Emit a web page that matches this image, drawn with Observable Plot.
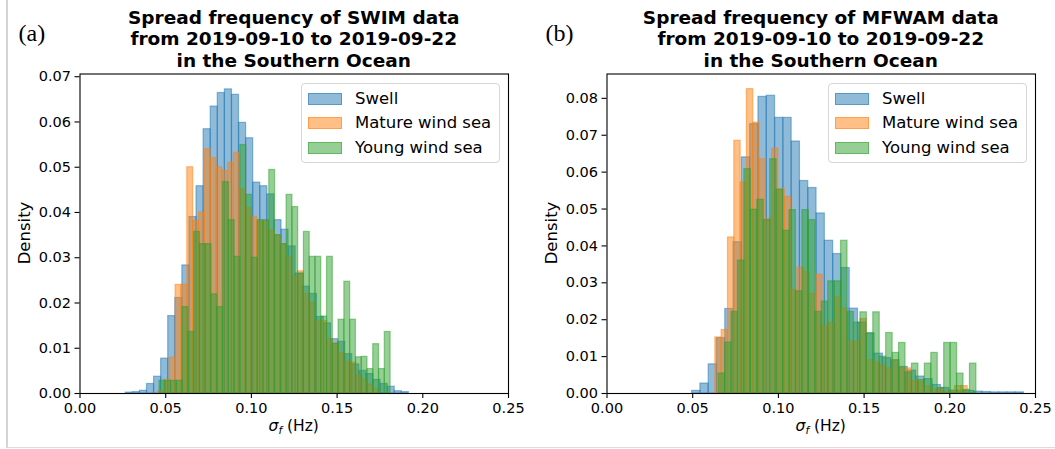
<!DOCTYPE html>
<html><head><meta charset="utf-8">
<script src="https://cdn.jsdelivr.net/npm/d3@7"></script>
<script src="https://cdn.jsdelivr.net/npm/@observablehq/plot@0.6"></script>
<style>
body{margin:0;background:#fff;}
#wrap{position:relative;width:1055px;height:449px;overflow:hidden;font-family:"DejaVu Sans",sans-serif;color:#000;background:#fff;}
.panel{position:absolute;top:0;}
.title{position:absolute;top:6.5px;text-align:center;font-weight:bold;font-size:18.5px;line-height:21.5px;white-space:nowrap;}
.tag{position:absolute;top:21px;font-family:"Liberation Serif",serif;font-size:24px;line-height:1;}
.xlab{position:absolute;top:416px;text-align:center;font-size:15.5px;line-height:20px;}
.ylab{position:absolute;font-size:16.5px;line-height:20px;transform:translate(-50%,-50%) rotate(-90deg);white-space:nowrap;}
.legend{position:absolute;top:83px;width:199px;height:80px;border:1px solid #d6d6d6;border-radius:4px;background:rgba(255,255,255,0.8);box-sizing:border-box;}
.lrow{position:absolute;left:0;height:20px;font-size:16.5px;line-height:20px;white-space:nowrap;}
.patch{position:absolute;left:6px;top:4px;width:34px;height:12px;box-sizing:border-box;}
.ltext{position:absolute;left:53px;top:0;}
.vline{position:absolute;left:6px;top:0;width:1.5px;height:448px;background:#d4d4d4;}
.hline{position:absolute;left:6px;top:446.5px;width:1049px;height:1.5px;background:#dcdcdc;}
</style></head><body><div id="wrap"></div>
<script>
// ---------- data ----------
const seriesNames = ["Swell", "Mature wind sea", "Young wind sea"];
const seriesColors = ["#1f77b4", "#ff7f0e", "#2ca02c"];
const xTicks = [0.00, 0.05, 0.10, 0.15, 0.20, 0.25];
const yTicksA = [0.00, 0.01, 0.02, 0.03, 0.04, 0.05, 0.06, 0.07];
const yTicksB = [0.00, 0.01, 0.02, 0.03, 0.04, 0.05, 0.06, 0.07, 0.08];
const titleA = ["Spread frequency of SWIM data", "from 2019-09-10 to 2019-09-22", "in the Southern Ocean"];
const titleB = ["Spread frequency of MFWAM data", "from 2019-09-10 to 2019-09-22", "in the Southern Ocean"];

// (a) SWIM — histogram bins: first bin edge, bin width, densities
const swimSwellStart = 0.0267, swimSwellWidth = 0.00413;
const swimSwell = [0.0002, 0.0003, 0.0006, 0.0021, 0.0037, 0.0077, 0.0171, 0.0211, 0.0283, 0.039, 0.0458, 0.0584, 0.0634, 0.0664, 0.0672, 0.066, 0.0598, 0.0564, 0.0466, 0.0458, 0.044, 0.0383, 0.0362, 0.0325, 0.0265, 0.0236, 0.022, 0.0169, 0.0155, 0.012, 0.0114, 0.0087, 0.0064, 0.005, 0.0043, 0.003, 0.0021, 0.0015, 0.0005, 0.0003];
const swimMatureStart = 0.0456, swimMatureWidth = 0.0034;
const swimMature = [0.0005, 0.003, 0.0079, 0.024, 0.024, 0.050, 0.0381, 0.040, 0.054, 0.052, 0.050, 0.0492, 0.051, 0.0532, 0.0451, 0.041, 0.039, 0.038, 0.038, 0.036, 0.035, 0.033, 0.030, 0.026, 0.027, 0.022, 0.020, 0.016, 0.016, 0.012, 0.011, 0.009, 0.007, 0.0068, 0.004, 0.003, 0.002, 0.001];
const swimYoungStart = 0.0464, swimYoungWidth = 0.00337;
const swimYoung = [0.0028, 0.0028, 0.0028, 0.0028, 0.0191, 0.0136, 0.0357, 0.033, 0.033, 0.0219, 0.0191, 0.0467, 0.0383, 0.0302, 0.0549, 0.0439, 0.030, 0.0383, 0.0383, 0.0494, 0.035, 0.033, 0.0439, 0.0412, 0.0265, 0.0357, 0.0302, 0.0302, 0.017, 0.0302, 0.011, 0.0163, 0.0247, 0.0163, 0.008, 0.0081, 0.0054, 0.0109, 0.0054, 0.0136];

// (b) MFWAM
const mfSwellStart = 0.04965, mfSwellWidth = 0.00484;
const mfSwell = [0.0007, 0.0027, 0.0079, 0.015, 0.0229, 0.041, 0.064, 0.073, 0.0804, 0.0807, 0.0747, 0.0747, 0.0683, 0.0576, 0.0557, 0.0488, 0.0414, 0.0378, 0.034, 0.023, 0.0192, 0.0163, 0.0108, 0.0096, 0.009, 0.0072, 0.0062, 0.0046, 0.0039, 0.0023, 0.0015, 0.0008, 0.0007, 0.0007, 0.0005, 0.0004, 0.0003, 0.0003, 0.0003, 0.0003];
const mfMatureStart = 0.06323, mfMatureWidth = 0.00368;
const mfMature = [0.0152, 0.0172, 0.0423, 0.0685, 0.0572, 0.0825, 0.0734, 0.0635, 0.0473, 0.0664, 0.0554, 0.0533, 0.028, 0.0341, 0.033, 0.027, 0.0322, 0.0182, 0.0192, 0.0262, 0.023, 0.014, 0.014, 0.0202, 0.009, 0.0085, 0.0077, 0.0068, 0.009, 0.007, 0.0068, 0.0034, 0.0032, 0.002, 0.001, 0.0012, 0.0005, 0.0005, 0.002, 0.002];
const mfYoungStart = 0.06512, mfYoungWidth = 0.00376;
const mfYoung = [0.0054, 0.0138, 0.0221, 0.036, 0.0608, 0.0498, 0.0525, 0.047, 0.0635, 0.0552, 0.0441, 0.0497, 0.0277, 0.0497, 0.047, 0.0221, 0.0249, 0.0304, 0.0304, 0.0414, 0.0221, 0.0192, 0.022, 0.0163, 0.022, 0.010, 0.0164, 0.011, 0.0137, 0.0057, 0.0081, 0.0037, 0.0081, 0.011, 0.0015, 0.0137, 0.0137, 0.0054, 0.001, 0.0081];

// ---------- build ----------
function bins(start, width, values, series) {
  return values.map((v, i) => ({x1: start + i * width, x2: start + (i + 1) * width, y: v, series}));
}
const fmt = d3.format(".2f");
const W = 528, H = 449;
const M = {left: 79.5, right: 20, top: 73.5, bottom: 56};

function panel(series, yMax, yTicks) {
  const marks = series.map((rows, i) => Plot.rectY(rows, {
    x1: "x1", x2: "x2", y: "y",
    fill: seriesColors[i], fillOpacity: 0.5,
    stroke: seriesColors[i], strokeOpacity: 0.5, strokeWidth: 1.2
  }));
  return Plot.plot({
    width: W, height: H,
    marginLeft: M.left, marginRight: M.right, marginTop: M.top, marginBottom: M.bottom,
    style: {fontFamily: "DejaVu Sans", fontSize: "14.5px", color: "black", background: "transparent", overflow: "visible"},
    x: {domain: [0, 0.25]},
    y: {domain: [0, yMax]},
    marks: [
      ...marks,
      Plot.axisX({ticks: xTicks, tickFormat: fmt, tickSize: 5, tickPadding: 4, label: null, fontSize: 14.5, strokeWidth: 1.1}),
      Plot.axisY({ticks: yTicks, tickFormat: fmt, tickSize: 5, tickPadding: 4, label: null, fontSize: 14.5, strokeWidth: 1.1}),
      Plot.frame({stroke: "black", strokeWidth: 1.1})
    ]
  });
}

const wrap = document.getElementById("wrap");
function addDiv(cls, css, html) {
  const d = document.createElement("div");
  d.className = cls;
  Object.assign(d.style, css);
  if (html != null) d.innerHTML = html;
  wrap.appendChild(d);
  return d;
}

const panels = [
  {off: 0, tag: "(a)", title: titleA, yMax: 0.0706, yTicks: yTicksA,
   data: [bins(swimSwellStart, swimSwellWidth, swimSwell, seriesNames[0]),
          bins(swimMatureStart, swimMatureWidth, swimMature, seriesNames[1]),
          bins(swimYoungStart, swimYoungWidth, swimYoung, seriesNames[2])]},
  {off: 527, tag: "(b)", title: titleB, yMax: 0.0866, yTicks: yTicksB,
   data: [bins(mfSwellStart, mfSwellWidth, mfSwell, seriesNames[0]),
          bins(mfMatureStart, mfMatureWidth, mfMature, seriesNames[1]),
          bins(mfYoungStart, mfYoungWidth, mfYoung, seriesNames[2])]}
];

addDiv("vline", {});
addDiv("hline", {});

panels.forEach(p => {
  const holder = addDiv("panel", {left: p.off + "px"});
  holder.appendChild(panel(p.data, p.yMax, p.yTicks));
  const plotLeft = p.off + M.left, plotW = W - M.left - M.right;
  addDiv("title", {left: plotLeft + "px", width: plotW + "px"}, p.title.join("<br>"));
  addDiv("tag", {left: (p.off + 18.5) + "px"}, p.tag);
  addDiv("xlab", {left: plotLeft + "px", width: plotW + "px"},
    '<i>σ<sub style="font-size:10.5px;vertical-align:-3px;line-height:0">f</sub></i> (Hz)');
  addDiv("ylab", {left: (p.off + 25) + "px", top: "233px"}, "Density");
  const lg = addDiv("legend", {left: (p.off + 301) + "px"});
  seriesNames.forEach((name, i) => {
    const row = document.createElement("div");
    row.className = "lrow";
    row.style.top = (4.5 + i * 24.8) + "px";
    row.style.width = "100%";
    row.innerHTML = '<div class="patch" style="background:' + seriesColors[i] + '80;border:1.2px solid ' + seriesColors[i] + '80"></div><div class="ltext">' + name + '</div>';
    lg.appendChild(row);
  });
});
</script>
</body></html>
